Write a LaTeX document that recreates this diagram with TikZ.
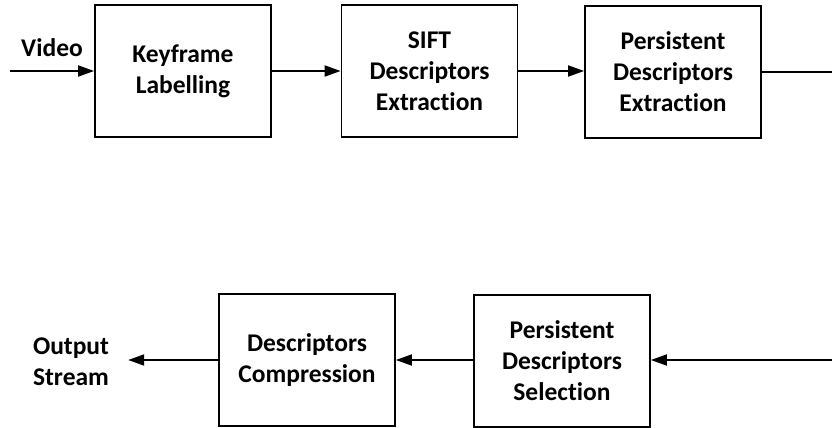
\documentclass[tikz,border=0pt]{standalone}
\usepackage{fontspec}
\setmainfont{Carlito}[Ligatures=NoCommon]
\usetikzlibrary{arrows.meta}
\begin{document}
\begin{tikzpicture}[x=1pt,y=-1pt,
  txt/.style={font=\bfseries\fontsize{25.5}{31}\selectfont, align=center},
  stage/.style={txt, draw, line width=1.8pt, minimum width=176pt, minimum height=132pt, inner sep=0pt},
  flow/.style={line width=1.8pt, -{Triangle[length=16pt,width=11pt]}},
  wire/.style={line width=1.8pt}]
\useasboundingbox (0,0) rectangle (832,428);

% processing stages
\node[stage] (key)  at (183,71)   {Keyframe\\Labelling};
\node[stage] (sift) at (429.5,71) {SIFT\\Descriptors\\Extraction};
\node[stage] (pde)  at (673,72)   {Persistent\\Descriptors\\Extraction};
\node[stage] (comp) at (307,360)  {Descriptors\\Compression};
\node[stage] (sel)  at (562,361)  {Persistent\\Descriptors\\Selection};

% input / output labels
\node[txt, inner sep=0pt] (vid) at (52,48) {Video};
\node[txt, inner xsep=19pt, inner ysep=0pt] (out) at (71,362) {Output\\Stream};

% free ends of the connectors
\coordinate (vin)    at (10,71);
\coordinate (topend) at (832,72);
\coordinate (botin)  at (832,360);

% connectors
\draw[flow] (vin) -- (key.west);
\draw[flow] (key.east) -- (sift.west);
\draw[flow] (sift.east) -- (sift.east -| pde.west);
\draw[wire] (pde.east) -- (topend);
\draw[flow] (botin) -- (botin -| sel.east);
\draw[flow] (botin -| sel.west) -- (botin -| comp.east);
\draw[flow] (botin -| comp.west) -- (botin -| out.east);
\end{tikzpicture}
\end{document}
